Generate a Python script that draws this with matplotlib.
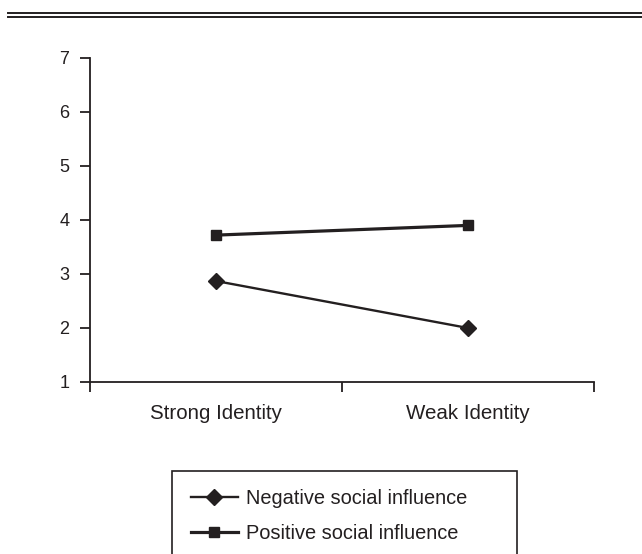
import matplotlib
matplotlib.use("Agg")
import matplotlib.pyplot as plt
from matplotlib.lines import Line2D
from matplotlib.patches import Rectangle

# data
categories = ["Strong Identity", "Weak Identity"]
negative_influence = [2.87, 2.0]
positive_influence = [3.72, 3.9]
y_ticks = [1, 2, 3, 4, 5, 6, 7]

INK = "#231f20"
W, H = 642, 554

plt.rcParams["font.family"] = ["Liberation Sans", "DejaVu Sans"]

fig = plt.figure(figsize=(W / 100, H / 100), dpi=100)
ax = fig.add_axes([90 / W, 1 - 382 / H, (594 - 90) / W, (382 - 58) / H])

x_pos = [0.5, 1.5]
ax.plot(x_pos, positive_influence, color=INK, lw=2.3, marker="s", ms=7,
        label="Positive social influence", zorder=3, clip_on=False)
ax.plot(x_pos, negative_influence, color=INK, lw=1.7, marker="D", ms=8.5,
        label="Negative social influence", zorder=3, clip_on=False)

ax.set_xlim(0, 2)
ax.set_ylim(1, 7)
ax.set_yticks(y_ticks)
ax.set_xticks([0, 1, 2])
ax.set_xticklabels([])
ax.set_xticks(x_pos, minor=True)
ax.set_xticklabels(categories, minor=True)

for side in ("top", "right"):
    ax.spines[side].set_visible(False)
for side in ("left", "bottom"):
    ax.spines[side].set_color(INK)
    ax.spines[side].set_linewidth(1.3)

ax.tick_params(axis="both", which="major", direction="out", length=7,
               width=1.3, color=INK, labelsize=13, labelcolor=INK)
ax.tick_params(axis="y", pad=8)
ax.tick_params(axis="x", which="minor", length=0, pad=16, labelsize=14.8,
               labelcolor=INK)

# double rule at the top
for yy in (12.5, 16.5):
    fig.add_artist(Line2D([8 / W, 1], [1 - yy / H, 1 - yy / H],
                          transform=fig.transFigure, color=INK, lw=1.4))

# legend box, open at the bottom (cut off by the figure edge)
fig.add_artist(Rectangle((172 / W, -0.05), (517 - 172) / W, (1 - 471 / H) + 0.05,
                         transform=fig.transFigure, fill=False,
                         edgecolor=INK, lw=1.2))
handles, labels = ax.get_legend_handles_labels()
fig.legend(handles[::-1], labels[::-1], loc="upper left",
           bbox_to_anchor=(191 / W, 1 - 489 / H), frameon=False,
           fontsize=14.4, handlelength=2.35, handletextpad=0.4,
           labelspacing=0.8, borderaxespad=0, borderpad=0,
           labelcolor=INK)

fig.savefig("out.png", dpi=100)
